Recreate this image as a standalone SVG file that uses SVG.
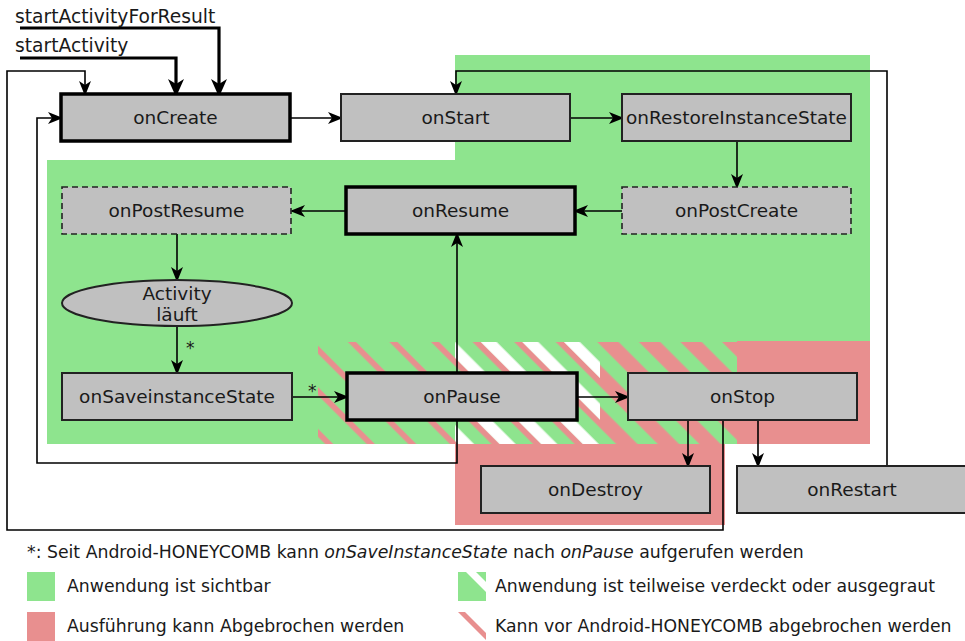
<svg xmlns="http://www.w3.org/2000/svg" width="965" height="641" viewBox="0 0 965 641">
<style>
.box{fill:#c0c0c0;stroke:#222;stroke-width:2}
.thick{stroke:#000;stroke-width:3.5}
.dash{stroke-dasharray:6 4;stroke-width:1.6}
.lbl{font-family:"DejaVu Sans",sans-serif;font-size:18.5px;fill:#1a1a1a;text-anchor:middle;dominant-baseline:central}
.ln{fill:none;stroke:#000;stroke-width:1.6;marker-end:url(#a)}
.lnt{fill:none;stroke:#000;stroke-width:3.2;marker-end:url(#b)}
.top{font-family:"DejaVu Sans",sans-serif;font-size:18.7px;fill:#1a1a1a}
.leg{font-family:"DejaVu Sans",sans-serif;font-size:17.3px;fill:#1a1a1a}
.star{font-family:"DejaVu Sans",sans-serif;font-size:17px;fill:#1a1a1a}
.green{fill:#8ee48e}
.pink{fill:#e88f8f}
</style>
<defs>
<marker id="a" viewBox="0 0 15 12" refX="13" refY="6" markerWidth="15" markerHeight="12" markerUnits="userSpaceOnUse" orient="auto"><path d="M15,6 L0,0 L4,6 L0,12 Z" fill="#000"/></marker>
<marker id="b" viewBox="0 0 18 16" refX="14" refY="8" markerWidth="18" markerHeight="16" markerUnits="userSpaceOnUse" orient="auto"><path d="M18,8 L0,0 L5,8 L0,16 Z" fill="#000"/></marker>
<pattern id="pHc" patternUnits="userSpaceOnUse" width="29.4" height="10" patternTransform="rotate(-45)"><rect x="4.2" width="5.7" height="10" fill="#e88f8f"/></pattern>
<pattern id="pPart" patternUnits="userSpaceOnUse" width="29.4" height="10" patternTransform="rotate(-45)"><rect x="4.2" width="5.7" height="10" fill="#e88f8f"/><rect x="9.9" width="11.3" height="10" fill="#ffffff"/></pattern>
<pattern id="pStop" patternUnits="userSpaceOnUse" width="29.4" height="10" patternTransform="rotate(-45)"><rect x="4.2" width="15" height="10" fill="#e88f8f"/></pattern>
<clipPath id="ic1"><rect x="458" y="572" width="28" height="29"/></clipPath>
<clipPath id="ic2"><rect x="458" y="612" width="28" height="29"/></clipPath>
</defs>

<g id="backgrounds">
<polygon class="green" points="455,55 870,55 870,444 47,444 47,160 455,160"/>
<rect class="pink" x="737" y="341" width="133" height="103"/>
<rect class="pink" x="455" y="444" width="270" height="81"/>
<rect x="318" y="342" width="137" height="102" fill="url(#pHc)"/>
<rect x="455" y="342" width="145" height="102" fill="url(#pPart)"/>
<rect x="600" y="342" width="137" height="102" fill="url(#pStop)"/>
</g>

<g id="connectors">
<path class="lnt" d="M20,28 H219 V93"/>
<path class="lnt" d="M20,58 H176 V93"/>
<path class="ln" d="M723,420 V530 H7 V71 H85 V94"/>
<path class="ln" d="M457,420 V463 H37 V118 H61"/>
<path class="ln" d="M290,118 H341"/>
<path class="ln" d="M570,118 H622"/>
<path class="ln" d="M737,141 V187"/>
<path class="ln" d="M622,211 H575"/>
<path class="ln" d="M346,211 H292"/>
<path class="ln" d="M177,234 V280"/>
<path class="ln" d="M177,326 V373"/>
<path class="ln" d="M292,397 H347"/>
<path class="ln" d="M457,373 V234"/>
<path class="ln" d="M577,397 H628"/>
<path class="ln" d="M688,420 V466"/>
<path class="ln" d="M758,420 V466"/>
<path class="ln" d="M887,466 V71 H456 V94"/>
<text class="star" x="186" y="354">*</text>
<text class="star" x="308" y="397">*</text>
<text class="top" x="15" y="23">startActivityForResult</text>
<text class="top" x="15" y="52">startActivity</text>
</g>

<g id="onCreate"><rect class="box thick" x="61" y="94" width="229" height="47"/><text class="lbl" x="175.5" y="117.5">onCreate</text></g>
<g id="onStart"><rect class="box" x="341" y="94" width="229" height="47"/><text class="lbl" x="455.5" y="117.5">onStart</text></g>
<g id="onRestoreInstanceState"><rect class="box" x="622" y="94" width="229" height="47"/><text class="lbl" x="736.5" y="117.5">onRestoreInstanceState</text></g>
<g id="onPostCreate"><rect class="box dash" x="622" y="187" width="229" height="47"/><text class="lbl" x="736.5" y="210.5">onPostCreate</text></g>
<g id="onResume"><rect class="box thick" x="346" y="187" width="229" height="47"/><text class="lbl" x="460.5" y="210.5">onResume</text></g>
<g id="onPostResume"><rect class="box dash" x="62" y="187" width="229" height="47"/><text class="lbl" x="176.5" y="210.5">onPostResume</text></g>
<g id="activityRunning"><ellipse class="box" cx="177" cy="303" rx="115" ry="23"/><text class="lbl" x="177" y="293">Activity</text><text class="lbl" x="177" y="314">läuft</text></g>
<g id="onSaveinstanceState"><rect class="box" x="62" y="373" width="230" height="47"/><text class="lbl" x="177" y="396.5">onSaveinstanceState</text></g>
<g id="onPause"><rect class="box thick" x="347" y="373" width="230" height="47"/><text class="lbl" x="462" y="396.5">onPause</text></g>
<g id="onStop"><rect class="box" x="628" y="373" width="229" height="47"/><text class="lbl" x="742.5" y="396.5">onStop</text></g>
<g id="onDestroy"><rect class="box" x="481" y="466" width="229" height="47"/><text class="lbl" x="595.5" y="489.5">onDestroy</text></g>
<g id="onRestart"><rect class="box" x="737" y="466" width="230" height="47"/><text class="lbl" x="852" y="489.5">onRestart</text></g>

<g id="legend">
<text class="leg" x="27" y="558">*: Seit Android-HONEYCOMB kann <tspan font-style="italic">onSaveInstanceState</tspan> nach <tspan font-style="italic">onPause</tspan> aufgerufen werden</text>
<rect class="green" x="27" y="572" width="28" height="29"/>
<text class="leg" x="67" y="592">Anwendung ist sichtbar</text>
<rect class="pink" x="27" y="612" width="28" height="29"/>
<text class="leg" x="67" y="632">Ausführung kann Abgebrochen werden</text>
<g clip-path="url(#ic1)"><rect class="green" x="458" y="572" width="28" height="29"/><polygon fill="#fff" points="466,572 476,572 505,601 495,601"/></g>
<text class="leg" x="495" y="592">Anwendung ist teilweise verdeckt oder ausgegraut</text>
<g clip-path="url(#ic2)"><polygon class="pink" points="458,612 465,612 494,641 487,641"/></g>
<text class="leg" x="495" y="632">Kann vor Android-HONEYCOMB abgebrochen werden</text>
</g>
</svg>
